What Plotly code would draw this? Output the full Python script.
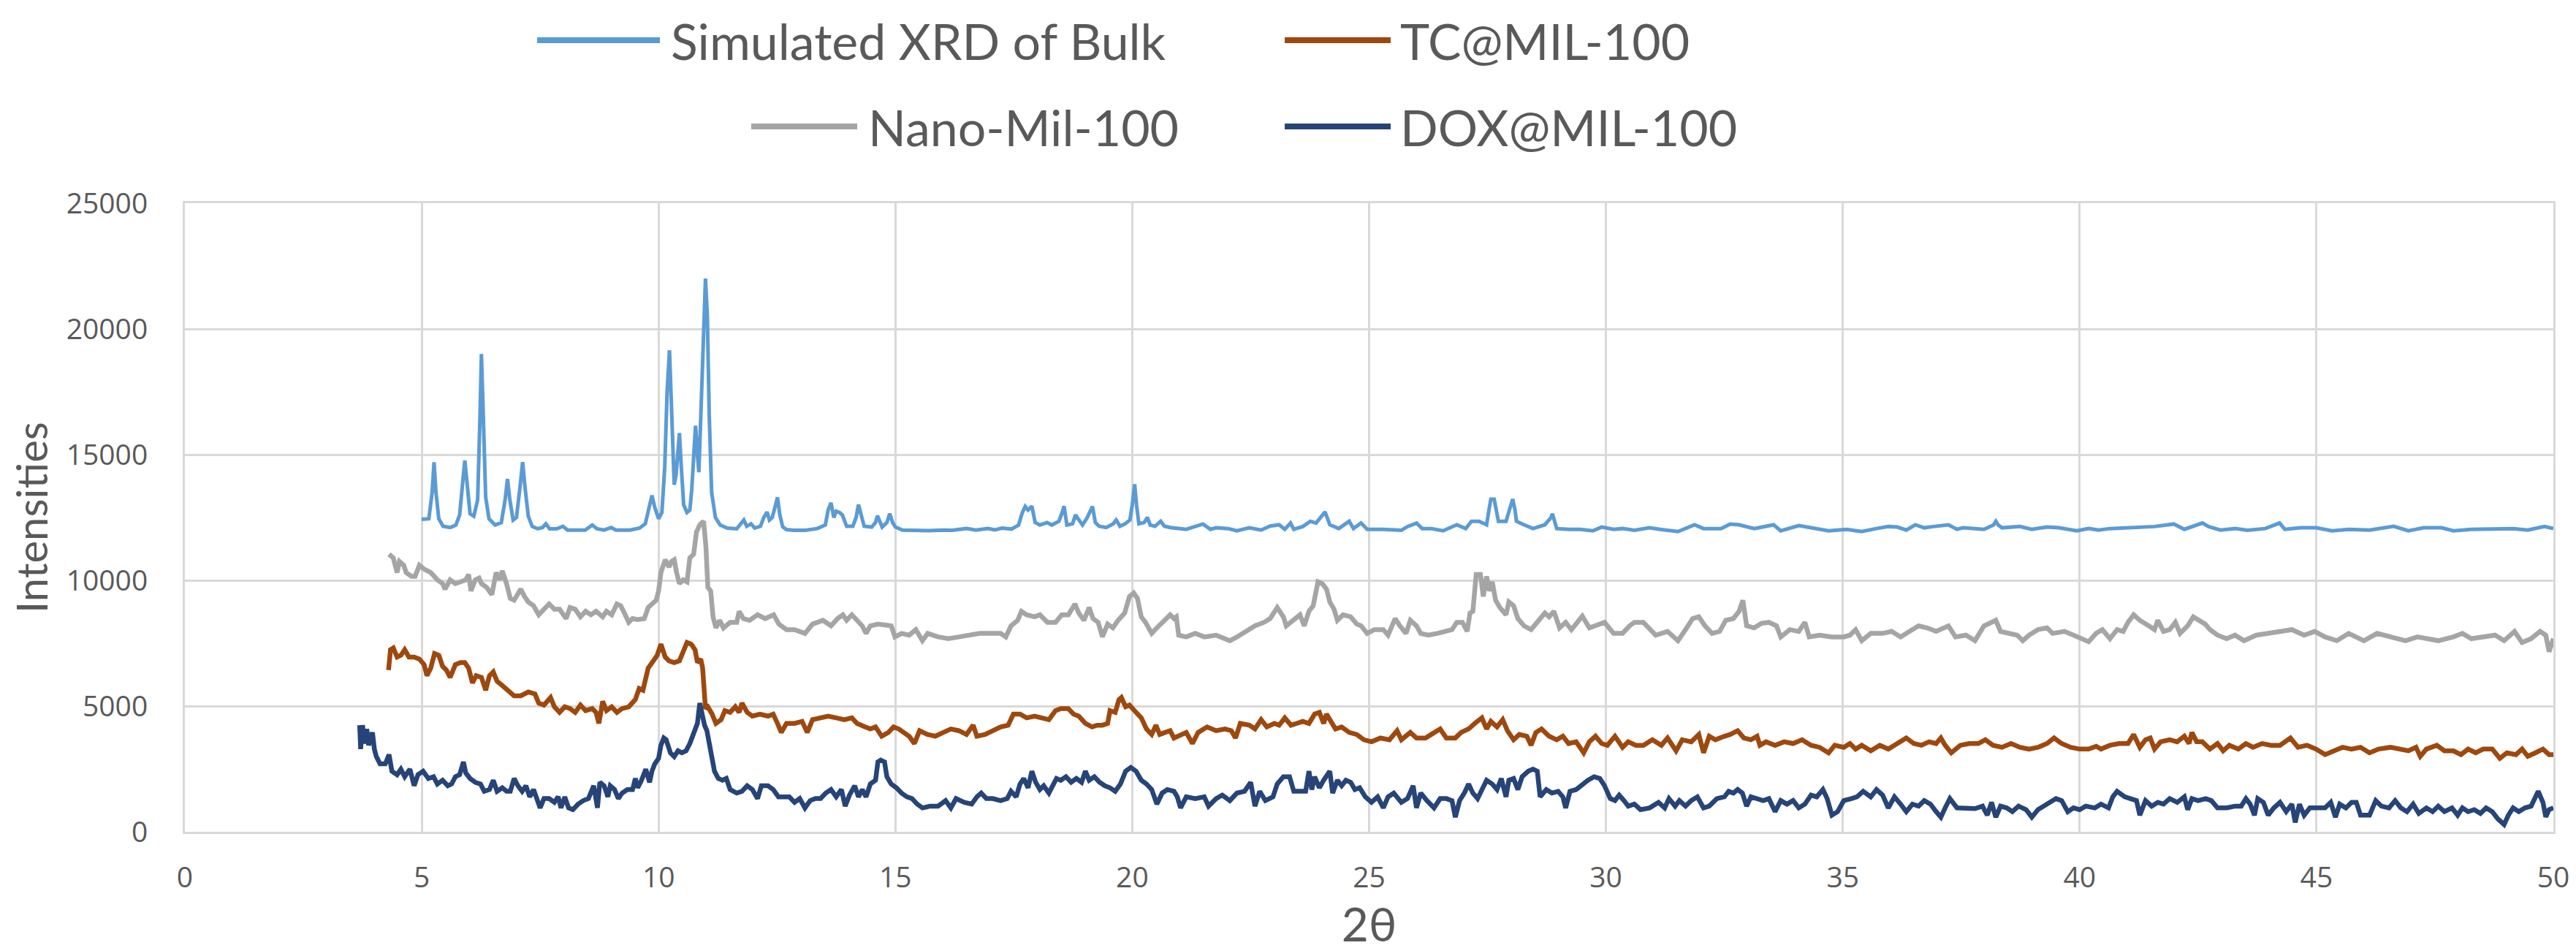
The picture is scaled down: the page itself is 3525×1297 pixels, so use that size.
import plotly.graph_objects as go

# ---------------- data (2theta, intensity) ----------------
bulk = [
(5.00,12430),(5.15,12450),(5.22,13500),(5.26,14700),(5.30,13500),(5.36,12450),(5.45,12150),(5.60,12100),
(5.72,12200),(5.80,12600),(5.87,14000),(5.91,14770),(5.96,13800),(6.02,12650),(6.10,12550),(6.18,13200),
(6.23,16500),(6.26,19000),(6.30,16500),(6.35,13300),(6.42,12450),(6.55,12200),(6.68,12300),(6.76,13200),
(6.81,14030),(6.86,13200),(6.93,12400),(7.00,12500),(7.08,13800),(7.13,14700),(7.18,13700),(7.25,12550),
(7.33,12150),(7.45,12050),(7.55,12100),(7.62,12250),(7.70,12050),(7.85,12050),(7.98,12150),(8.08,12000),
(8.25,12000),(8.45,12000),(8.60,12200),(8.70,12050),(8.85,12000),(9.00,12100),(9.10,12000),(9.40,12000),
(9.60,12080),(9.72,12250),(9.80,12900),(9.86,13380),(9.92,12900),(10.00,12450),(10.07,12700),(10.13,14500),
(10.18,17500),(10.23,19150),(10.28,16500),(10.33,13800),(10.37,14200),(10.41,15200),(10.44,15860),(10.48,14500),
(10.53,13000),(10.60,12700),(10.66,12800),(10.70,13600),(10.75,15200),(10.78,16150),(10.82,15000),(10.85,14300),
(10.90,17000),(10.95,20500),(10.99,22000),(11.03,20500),(11.07,16500),(11.12,13500),(11.20,12500),(11.30,12200),
(11.45,12080),(11.65,12050),(11.75,12250),(11.80,12400),(11.86,12150),(11.95,12250),(12.03,12080),(12.15,12150),
(12.22,12500),(12.29,12720),(12.34,12400),(12.40,12500),(12.47,13000),(12.51,13300),(12.56,12600),(12.62,12130),
(12.70,12020),(12.85,11990),(13.10,11990),(13.35,12060),(13.52,12200),(13.58,12800),(13.64,13080),(13.70,12500),
(13.75,12750),(13.82,12700),(13.88,12600),(13.97,12150),(14.10,12150),(14.17,12500),(14.22,13010),(14.28,12500),
(14.34,12150),(14.50,12120),(14.58,12300),(14.62,12570),(14.67,12300),(14.72,12120),(14.82,12300),(14.88,12650),
(14.94,12300),(15.00,12120),(15.15,12000),(15.40,11980),(15.70,11980),(16.00,12000),(16.20,11990),(16.50,12060),
(16.70,12000),(16.95,12060),(17.10,12010),(17.25,12080),(17.45,12040),(17.60,12200),(17.68,12700),(17.74,12940),
(17.80,12800),(17.88,12950),(17.95,12300),(18.05,12200),(18.20,12300),(18.30,12200),(18.45,12350),(18.52,12700),
(18.56,12950),(18.62,12200),(18.74,12250),(18.80,12600),(18.86,12450),(18.95,12200),(19.05,12500),(19.12,12800),
(19.16,12940),(19.22,12300),(19.30,12150),(19.45,12100),(19.60,12250),(19.66,12400),(19.74,12150),(19.85,12250),
(19.95,12400),(20.00,13000),(20.05,13820),(20.09,13000),(20.14,12250),(20.25,12300),(20.32,12500),(20.38,12200),
(20.48,12150),(20.60,12350),(20.68,12150),(20.80,12100),(20.95,12060),(21.14,12030),(21.49,12240),(21.65,12030),
(21.77,12090),(22.02,12060),(22.21,11970),(22.47,12090),(22.72,12000),(22.91,12160),(23.10,12210),(23.22,12030),
(23.34,12280),(23.41,12030),(23.60,12140),(23.76,12350),(23.88,12280),(23.98,12500),(24.07,12720),(24.17,12210),
(24.36,12060),(24.58,12350),(24.67,12060),(24.83,12280),(24.96,12030),(25.30,12030),(25.68,11990),(25.81,12140),
(26.00,12280),(26.12,12060),(26.31,12060),(26.56,11970),(26.85,12210),(27.04,12060),(27.16,12350),(27.32,12350),
(27.48,12210),(27.53,12800),(27.57,13230),(27.64,13230),(27.69,12800),(27.73,12350),(27.89,12350),(27.98,12940),
(28.03,13230),(28.08,12800),(28.11,12350),(28.27,12210),(28.46,12060),(28.71,12210),(28.84,12500),(28.87,12650),
(28.91,12400),(28.96,12060),(29.21,12030),(29.46,12030),(29.72,11970),(29.91,12120),(30.16,12030),(30.35,12060),
(30.60,11990),(30.92,12090),(31.14,12030),(31.52,11940),(31.87,12210),(32.06,12060),(32.43,12060),(32.62,12240),
(32.81,12210),(33.13,12060),(33.54,12210),(33.69,11970),(34.07,12180),(34.39,12060),(34.70,11970),(35.08,12030),
(35.40,11940),(35.71,12060),(35.96,12140),(36.15,12120),(36.34,12000),(36.53,12210),(36.72,12090),(36.91,12140),
(37.23,12210),(37.41,12030),(37.54,12090),(37.98,12030),(38.18,12200),(38.23,12350),(38.28,12200),(38.36,12090),
(38.74,12140),(38.99,12030),(39.31,12120),(39.56,12090),(39.94,11970),(40.19,12060),(40.40,12000),(40.64,12060),
(41.14,12090),(41.58,12140),(41.99,12240),(42.21,12030),(42.59,12280),(42.72,12140),(42.97,12000),(43.28,12060),
(43.54,11990),(43.92,12060),(44.22,12280),(44.33,12030),(44.67,12090),(44.99,12090),(45.33,11970),(45.68,12030),
(46.12,12000),(46.63,12150),(46.94,11970),(47.26,12090),(47.64,12090),(47.89,11970),(48.27,12030),(48.71,12060),
(49.15,12060),(49.46,12000),(49.81,12140),(50.00,12060),
]

nano = [
(4.31,11040),(4.40,10890),(4.48,10310),(4.53,10750),(4.62,10600),(4.67,10310),(4.78,10160),(4.86,10160),
(4.95,10600),(5.05,10450),(5.19,10310),(5.33,10020),(5.44,9870),(5.49,9650),(5.60,10020),(5.71,9870),
(5.82,9940),(5.93,10020),(5.99,10230),(6.04,9580),(6.13,10020),(6.21,10090),(6.26,9870),(6.37,9720),
(6.48,9430),(6.57,10310),(6.65,10020),(6.70,10380),(6.79,9870),(6.87,9280),(6.95,9210),(7.03,9430),
(7.09,9650),(7.17,9360),(7.25,9140),(7.36,8990),(7.47,8630),(7.58,8850),(7.69,9060),(7.80,8850),
(7.91,8850),(8.05,8480),(8.13,8920),(8.24,8850),(8.35,8550),(8.46,8770),(8.57,8630),(8.68,8770),
(8.82,8550),(8.90,8770),(9.01,8630),(9.12,9060),(9.20,8990),(9.26,8770),(9.37,8330),(9.45,8480),
(9.56,8440),(9.70,8480),(9.78,8920),(9.86,9060),(9.95,9210),(10.00,9580),(10.05,10310),(10.14,10820),
(10.22,10530),(10.27,10750),(10.33,10820),(10.38,10310),(10.44,9870),(10.52,10020),(10.60,9940),(10.66,10890),
(10.74,11040),(10.80,11920),(10.87,12210),(10.95,12350),(11.00,11330),(11.04,9720),(11.10,9580),(11.15,8550),
(11.21,8110),(11.29,8410),(11.37,8110),(11.51,8330),(11.65,8330),(11.70,8770),(11.79,8480),(11.92,8410),
(12.09,8630),(12.25,8480),(12.43,8630),(12.54,8260),(12.70,8040),(12.87,8040),(13.09,7890),(13.25,8260),
(13.47,8410),(13.64,8190),(13.78,8480),(13.89,8630),(13.97,8410),(14.08,8630),(14.19,8410),(14.30,8190),
(14.38,7890),(14.47,8190),(14.63,8260),(14.80,8190),(14.91,8190),(14.99,7750),(15.13,7890),(15.29,7820),
(15.43,8040),(15.57,7600),(15.68,7890),(15.90,7750),(16.12,7680),(16.34,7750),(16.56,7820),(16.78,7890),
(17.00,7890),(17.22,7890),(17.33,7750),(17.44,8190),(17.58,8410),(17.66,8770),(17.77,8630),(17.94,8550),
(18.05,8630),(18.21,8330),(18.38,8330),(18.51,8630),(18.65,8630),(18.79,9060),(18.87,8700),(18.98,8410),
(19.09,8920),(19.17,8480),(19.28,8330),(19.37,7750),(19.48,8260),(19.59,8110),(19.70,8410),(19.84,8700),
(19.94,9360),(20.03,9500),(20.11,9280),(20.19,8550),(20.28,8330),(20.41,7890),(20.52,8110),(20.69,8410),
(20.80,8630),(20.88,8480),(20.93,8550),(20.98,7820),(21.14,7750),(21.33,7890),(21.52,7750),(21.77,7820),
(22.06,7600),(22.21,7750),(22.40,7970),(22.59,8190),(22.78,8330),(22.91,8480),(23.06,8920),(23.19,8550),
(23.25,8190),(23.41,8410),(23.54,8630),(23.63,8190),(23.73,8770),(23.82,8990),(23.92,9940),(24.01,9870),
(24.10,9650),(24.17,9140),(24.26,8850),(24.33,8410),(24.45,8630),(24.61,8550),(24.74,8260),(24.83,8190),
(24.96,7890),(25.11,8040),(25.30,8040),(25.40,7820),(25.55,8480),(25.65,8190),(25.78,7890),(25.87,8410),
(26.00,8190),(26.09,7890),(26.25,7820),(26.44,7890),(26.60,7970),(26.75,8040),(26.85,8330),(26.97,8330),
(27.07,7970),(27.13,8700),(27.19,8770),(27.26,10230),(27.35,10230),(27.41,9360),(27.48,10160),(27.54,9580),
(27.60,9940),(27.67,9210),(27.76,8920),(27.89,8630),(27.95,9140),(28.05,8990),(28.14,8480),(28.27,8190),
(28.42,8040),(28.55,8330),(28.71,8700),(28.80,8550),(28.90,8770),(29.02,8110),(29.15,8330),(29.27,8040),
(29.50,8580),(29.65,8110),(29.84,8260),(29.97,8330),(30.16,7890),(30.35,7890),(30.50,8190),(30.60,8330),
(30.79,8330),(31.05,7820),(31.30,7970),(31.52,7600),(31.68,8040),(31.83,8480),(31.96,8550),(32.09,8190),
(32.24,7890),(32.40,7970),(32.53,8410),(32.69,8480),(32.81,8770),(32.89,9210),(32.97,8190),(33.13,8110),
(33.28,8290),(33.44,8330),(33.60,8190),(33.69,7750),(33.88,8040),(34.07,7970),(34.20,8330),(34.29,7750),
(34.51,7820),(34.77,7750),(35.02,7750),(35.15,7820),(35.27,8040),(35.40,7600),(35.59,7890),(35.84,7890),
(36.03,7970),(36.22,7750),(36.41,7970),(36.60,8190),(36.78,8110),(36.97,7970),(37.23,8190),(37.38,7750),
(37.60,7820),(37.79,7600),(37.98,8190),(38.14,8330),(38.23,8410),(38.33,7970),(38.49,7890),(38.68,7820),
(38.80,7600),(38.93,7820),(39.12,8040),(39.31,8110),(39.43,7890),(39.68,7970),(39.87,7820),(40.06,7680),
(40.19,7560),(40.35,7900),(40.48,8040),(40.64,7680),(40.79,8040),(40.92,7970),(41.02,8330),(41.14,8630),
(41.27,8410),(41.46,8190),(41.58,8040),(41.65,8410),(41.77,7970),(41.90,8040),(42.02,8330),(42.12,7890),
(42.28,8190),(42.40,8550),(42.53,8410),(42.65,8260),(42.75,8040),(42.91,7820),(43.10,7680),(43.28,7820),
(43.47,7600),(43.73,7820),(43.98,7890),(44.23,7970),(44.48,8040),(44.74,7820),(44.96,7970),(45.18,7750),
(45.43,7600),(45.68,7890),(46.00,7600),(46.28,7890),(46.56,7750),(46.88,7600),(47.13,7750),(47.57,7600),
(47.89,7750),(48.08,7890),(48.27,7680),(48.52,7750),(48.77,7820),(48.96,7600),(49.18,7970),(49.34,7530),
(49.53,7680),(49.72,7970),(49.84,7820),(49.91,7160),(50.00,7680),
]

tc = [
(4.30,6430),(4.34,7240),(4.40,7310),(4.48,6950),(4.56,7020),(4.64,7240),(4.73,6950),(4.84,6950),
(4.95,6870),(5.05,6650),(5.11,6210),(5.19,6510),(5.27,7090),(5.36,7020),(5.44,6580),(5.52,6430),
(5.60,6140),(5.71,6650),(5.82,6730),(5.91,6730),(5.99,6510),(6.07,5920),(6.15,6210),(6.26,6140),
(6.35,5630),(6.43,6210),(6.51,6360),(6.59,5990),(6.68,5850),(6.81,5630),(6.95,5410),(7.09,5410),
(7.25,5560),(7.39,5480),(7.47,5120),(7.58,5040),(7.72,5340),(7.80,4970),(7.91,4750),(8.02,4970),
(8.13,4900),(8.24,4750),(8.35,5040),(8.46,4820),(8.60,4900),(8.68,4750),(8.74,4310),(8.82,5190),
(8.90,4820),(9.01,4970),(9.12,4750),(9.23,4900),(9.37,4970),(9.51,5260),(9.59,5700),(9.67,5630),
(9.78,6510),(9.89,6800),(9.97,7020),(10.05,7460),(10.14,6950),(10.22,6800),(10.33,6730),(10.44,6800),
(10.52,7160),(10.60,7530),(10.69,7460),(10.77,7240),(10.82,6730),(10.89,6870),(10.93,6510),(10.99,4900),
(11.04,4970),(11.13,4680),(11.21,4310),(11.32,4460),(11.40,4820),(11.51,4750),(11.62,4970),(11.70,4750),
(11.76,5120),(11.87,4750),(11.98,4600),(12.14,4680),(12.31,4600),(12.42,4680),(12.51,4310),(12.59,3950),
(12.70,4310),(12.87,4310),(13.03,4390),(13.14,3950),(13.25,4460),(13.42,4530),(13.58,4600),(13.75,4530),
(13.92,4460),(14.08,4530),(14.19,4310),(14.36,4170),(14.47,4090),(14.58,4170),(14.71,3800),(14.85,3950),
(14.96,4170),(15.07,4090),(15.18,3950),(15.29,3800),(15.40,3510),(15.51,4020),(15.68,3870),(15.84,3800),
(16.01,3950),(16.17,4090),(16.34,4020),(16.50,3870),(16.64,4240),(16.72,3800),(16.89,3870),(17.05,4020),
(17.22,4170),(17.38,4240),(17.49,4680),(17.63,4680),(17.77,4530),(17.94,4600),(18.10,4530),(18.24,4460),
(18.38,4820),(18.49,4900),(18.65,4900),(18.76,4680),(18.87,4600),(19.01,4310),(19.15,4170),(19.26,4240),
(19.37,4240),(19.48,4310),(19.53,4820),(19.64,4750),(19.72,5260),(19.77,5340),(19.86,4970),(19.94,5040),
(20.08,4750),(20.19,4530),(20.30,4090),(20.41,3870),(20.50,4240),(20.58,3870),(20.69,3950),(20.80,4020),
(20.88,3730),(20.95,3800),(21.02,3870),(21.14,3950),(21.27,3510),(21.39,3950),(21.58,4170),(21.77,4020),
(21.96,4090),(22.09,4020),(22.18,3730),(22.28,4310),(22.47,4240),(22.59,4090),(22.72,4460),(22.84,4170),
(23.00,4310),(23.10,4240),(23.22,4530),(23.35,4240),(23.47,4310),(23.60,4390),(23.73,4310),(23.85,4680),
(23.95,4750),(24.04,4310),(24.10,4680),(24.20,4390),(24.29,4090),(24.42,4170),(24.58,3950),(24.74,3870),
(24.89,3660),(25.05,3580),(25.24,3730),(25.43,3660),(25.59,4020),(25.68,3660),(25.87,3950),(26.00,3730),
(26.19,3730),(26.31,3870),(26.50,4090),(26.63,3730),(26.82,3730),(26.94,3950),(27.10,4090),(27.23,4310),
(27.38,4530),(27.48,4090),(27.57,4390),(27.70,4170),(27.82,4460),(27.92,4020),(28.05,3660),(28.17,3870),
(28.33,3800),(28.42,3440),(28.52,3950),(28.64,4090),(28.80,3800),(28.96,3660),(29.09,3800),(29.21,3510),
(29.37,3580),(29.53,3140),(29.65,3580),(29.78,3800),(29.91,3510),(30.03,3440),(30.19,3800),(30.35,3360),
(30.47,3580),(30.63,3440),(30.79,3440),(30.98,3660),(31.17,3440),(31.30,3730),(31.48,3220),(31.61,3660),
(31.80,3580),(31.96,3870),(32.06,3140),(32.18,3800),(32.31,3660),(32.50,3800),(32.62,3870),(32.78,4020),
(32.91,3730),(33.06,3660),(33.19,3800),(33.25,3440),(33.38,3580),(33.57,3440),(33.76,3580),(33.95,3510),
(34.14,3660),(34.33,3440),(34.51,3360),(34.70,3140),(34.83,3440),(35.02,3360),(35.15,3510),(35.27,3290),
(35.40,3440),(35.59,3220),(35.78,3440),(35.96,3290),(36.15,3510),(36.34,3730),(36.50,3510),(36.66,3440),
(36.82,3580),(36.97,3510),(37.07,3730),(37.16,3440),(37.29,3140),(37.48,3440),(37.67,3510),(37.86,3510),
(38.01,3660),(38.17,3440),(38.36,3360),(38.55,3510),(38.74,3360),(38.93,3290),(39.12,3360),(39.31,3510),
(39.46,3730),(39.62,3510),(39.81,3360),(40.00,3290),(40.19,3290),(40.35,3400),(40.45,3290),(40.64,3440),
(40.83,3510),(41.02,3510),(41.14,3870),(41.27,3360),(41.39,3660),(41.49,3730),(41.58,3290),(41.71,3580),
(41.90,3660),(42.06,3580),(42.21,3800),(42.31,3510),(42.37,3950),(42.47,3580),(42.59,3580),(42.75,3290),
(42.91,3510),(43.03,3220),(43.16,3440),(43.35,3290),(43.51,3510),(43.66,3360),(43.85,3510),(44.04,3440),
(44.23,3440),(44.45,3730),(44.61,3360),(44.80,3440),(44.99,3290),(45.18,3070),(45.37,3220),(45.55,3360),
(45.74,3290),(45.93,3360),(46.12,3140),(46.31,3290),(46.56,3360),(46.75,3290),(46.94,3220),(47.10,3360),
(47.19,3000),(47.32,3290),(47.54,3440),(47.70,3220),(47.89,3220),(48.05,3070),(48.20,3290),(48.36,3140),
(48.52,3290),(48.71,3290),(48.87,2920),(49.02,3140),(49.21,3070),(49.34,3290),(49.46,3000),(49.62,3140),
(49.78,3290),(49.91,3070),(50.00,3070),
]

dox = [
(3.69,4240),(3.71,3290),(3.75,4240),(3.79,3510),(3.84,4090),(3.88,3440),(3.93,3800),(3.96,3950),
(4.00,3290),(4.04,3000),(4.12,2700),(4.23,2700),(4.31,3070),(4.37,2410),(4.48,2270),(4.56,2490),
(4.64,2190),(4.75,2490),(4.84,1830),(4.92,2270),(5.03,2410),(5.14,2120),(5.25,2190),(5.33,1900),
(5.44,2050),(5.55,1830),(5.63,1900),(5.71,2190),(5.80,2270),(5.88,2780),(5.93,2340),(6.02,2120),
(6.13,1970),(6.24,1900),(6.32,1610),(6.43,1680),(6.51,2050),(6.59,1610),(6.70,1750),(6.79,1610),
(6.87,1610),(6.95,2120),(7.03,1830),(7.12,1610),(7.20,1830),(7.28,1390),(7.36,1680),(7.45,1240),
(7.50,950),(7.58,1320),(7.69,1320),(7.80,1170),(7.88,1390),(7.94,950),(8.02,1390),(8.10,950),
(8.19,880),(8.30,1100),(8.41,1240),(8.52,1320),(8.63,1830),(8.71,950),(8.76,1970),(8.85,1830),
(8.93,1390),(8.98,1830),(9.07,1680),(9.15,1320),(9.23,1540),(9.34,1680),(9.45,1680),(9.51,2120),
(9.56,1750),(9.64,2050),(9.73,2490),(9.81,1970),(9.86,2410),(9.92,2700),(10.00,2920),(10.05,3440),
(10.11,3730),(10.16,3660),(10.25,3140),(10.33,2990),(10.41,3220),(10.49,3140),(10.58,3220),(10.66,3510),
(10.74,3870),(10.82,4310),(10.87,5120),(10.91,4680),(10.97,4240),(11.02,4020),(11.10,3140),(11.18,2410),
(11.26,2120),(11.35,2050),(11.43,2120),(11.51,1680),(11.65,1540),(11.76,1610),(11.87,1830),(11.98,1680),
(12.09,1320),(12.17,1830),(12.31,1830),(12.42,1680),(12.53,1390),(12.65,1390),(12.76,1390),(12.87,1170),
(12.98,1320),(13.09,950),(13.20,1240),(13.31,1320),(13.42,1320),(13.53,1540),(13.64,1680),(13.75,1390),
(13.86,1680),(13.94,1020),(14.03,1460),(14.14,1830),(14.22,1390),(14.30,1680),(14.38,1390),(14.47,1900),
(14.58,2050),(14.63,2780),(14.69,2850),(14.77,2780),(14.82,2190),(14.91,1900),(15.02,1750),(15.13,1540),
(15.24,1390),(15.35,1320),(15.46,1100),(15.57,950),(15.73,1020),(15.90,1020),(16.06,1240),(16.17,950),
(16.28,1320),(16.45,1170),(16.61,1100),(16.72,1390),(16.81,1540),(16.92,1320),(17.05,1320),(17.22,1240),
(17.36,1320),(17.44,1610),(17.55,1390),(17.63,1900),(17.71,2120),(17.80,1750),(17.88,2410),(17.96,1970),
(18.05,1680),(18.13,1830),(18.24,1540),(18.32,1830),(18.40,2120),(18.49,2050),(18.60,2190),(18.71,1970),
(18.82,2120),(18.93,1970),(19.01,2410),(19.09,2050),(19.20,2190),(19.31,1970),(19.42,1830),(19.53,1750),
(19.64,1610),(19.75,1900),(19.86,2410),(19.97,2560),(20.08,2410),(20.19,2050),(20.30,1900),(20.41,1680),
(20.52,1100),(20.63,1540),(20.74,1680),(20.88,1610),(20.95,1390),(21.02,950),(21.14,1390),(21.33,1320),
(21.52,1390),(21.61,1020),(21.77,1320),(21.90,1460),(22.06,1240),(22.21,1540),(22.37,1610),(22.50,1970),
(22.59,1020),(22.69,1610),(22.81,1240),(22.97,1390),(23.06,1900),(23.19,2190),(23.32,2190),(23.41,1610),
(23.54,1610),(23.66,1610),(23.73,2410),(23.79,1680),(23.85,2190),(23.95,1750),(24.04,2050),(24.17,2410),
(24.23,1540),(24.33,2050),(24.42,1830),(24.51,2050),(24.61,1970),(24.70,1680),(24.80,1750),(24.92,1390),
(25.05,1170),(25.18,1390),(25.30,950),(25.40,1390),(25.52,1540),(25.68,1170),(25.81,1320),(25.93,1830),
(26.00,950),(26.09,1540),(26.22,1240),(26.37,950),(26.50,1320),(26.63,1320),(26.75,1240),(26.82,580),
(26.91,1240),(27.01,1540),(27.10,1900),(27.19,1540),(27.29,1320),(27.38,1680),(27.48,2050),(27.60,1900),
(27.70,1680),(27.79,2120),(27.89,1390),(27.95,2050),(28.05,2120),(28.14,1680),(28.23,2190),(28.36,2410),
(28.46,2490),(28.55,2410),(28.61,1390),(28.74,1680),(28.86,1540),(28.99,1610),(29.09,1390),(29.15,950),
(29.24,1610),(29.37,1680),(29.50,1900),(29.62,2050),(29.75,2190),(29.87,2120),(29.97,1830),(30.09,1320),
(30.19,1240),(30.28,1460),(30.38,1240),(30.47,1020),(30.60,1100),(30.73,880),(30.92,950),(31.11,1170),
(31.24,950),(31.33,1320),(31.46,1020),(31.55,1240),(31.68,1020),(31.80,1240),(31.93,1390),(32.06,950),
(32.18,1020),(32.34,1320),(32.50,1390),(32.59,1610),(32.69,1540),(32.78,1680),(32.88,1540),(32.97,1020),
(33.06,1390),(33.19,1320),(33.32,1240),(33.44,1320),(33.57,800),(33.69,1240),(33.82,1100),(33.95,1240),
(34.07,950),(34.20,1100),(34.33,1460),(34.45,1390),(34.58,1680),(34.67,1320),(34.77,660),(34.89,800),
(35.02,1240),(35.18,1320),(35.30,1390),(35.43,1610),(35.59,1390),(35.71,1680),(35.84,1460),(35.96,950),
(36.09,1390),(36.22,1100),(36.34,800),(36.47,1100),(36.60,1020),(36.72,1240),(36.85,1100),(36.97,800),
(37.07,580),(37.16,950),(37.26,1320),(37.41,950),(37.60,950),(37.79,920),(37.95,1020),(38.05,660),
(38.14,1170),(38.23,580),(38.33,1020),(38.46,950),(38.58,800),(38.71,1020),(38.87,880),(38.99,580),
(39.12,880),(39.24,1020),(39.37,1170),(39.50,1320),(39.62,1240),(39.75,800),(39.87,950),(40.00,880),
(40.13,1020),(40.32,950),(40.45,1100),(40.61,950),(40.70,1390),(40.79,1610),(40.95,1390),(41.08,1320),
(41.20,1240),(41.27,660),(41.39,1240),(41.52,1020),(41.65,1170),(41.77,1100),(41.90,1320),(42.06,1170),
(42.21,1390),(42.28,880),(42.37,1320),(42.50,1240),(42.66,1320),(42.78,1240),(42.91,950),(43.10,950),
(43.28,1020),(43.41,1020),(43.51,1320),(43.60,1100),(43.69,660),(43.76,1320),(43.88,1170),(43.98,660),
(44.10,950),(44.23,1170),(44.36,800),(44.48,1100),(44.55,370),(44.64,1100),(44.74,660),(44.86,950),
(45.02,950),(45.18,950),(45.30,1170),(45.40,580),(45.49,1100),(45.62,950),(45.74,1170),(45.84,1170),
(45.93,660),(46.12,660),(46.25,1240),(46.37,1020),(46.53,950),(46.66,1240),(46.78,950),(46.91,800),
(47.04,1100),(47.16,730),(47.32,950),(47.45,800),(47.57,1020),(47.70,800),(47.86,950),(47.98,660),
(48.08,950),(48.20,800),(48.33,880),(48.46,730),(48.58,950),(48.71,800),(48.83,510),(48.96,290),
(49.05,660),(49.15,950),(49.27,800),(49.40,950),(49.53,1020),(49.62,1390),(49.68,1610),(49.78,1170),
(49.84,590),(49.91,880),(50.00,950),
]

series_names = ["Simulated XRD of Bulk", "TC@MIL-100", "Nano-Mil-100", "DOX@MIL-100"]
series_colors = ["#5B9BD5", "#9E480E", "#A5A5A5", "#264478"]
x_ticks = [0, 5, 10, 15, 20, 25, 30, 35, 40, 45, 50]
y_ticks = [0, 5000, 10000, 15000, 20000, 25000]

# ---------------- figure ----------------
W, H = 3525, 1297
L, R, T, B = 245, 39, 270, 167
PW, PH = W - L - R, H - T - B

def px(xp):
    return (xp - L) / PW

def py(yp):
    return (H - B - yp) / PH

fig = go.Figure()
data_sets = {"Simulated XRD of Bulk": bulk, "TC@MIL-100": tc,
             "Nano-Mil-100": nano, "DOX@MIL-100": dox}
widths = {"Simulated XRD of Bulk": 5, "TC@MIL-100": 6.5, "Nano-Mil-100": 6.5, "DOX@MIL-100": 6.5}
for name, col in zip(series_names, series_colors):
    pts = data_sets[name]
    fig.add_trace(go.Scatter(
        x=[p[0] for p in pts], y=[p[1] for p in pts], mode="lines", name=name,
        line=dict(color=col, width=widths[name]), showlegend=False))

grid = "#D9D9D9"
txt = "#595959"
fig.update_layout(
    width=W, height=H,
    margin=dict(l=L, r=R, t=T, b=B, autoexpand=False),
    paper_bgcolor="white", plot_bgcolor="white",
    font=dict(family="Open Sans", color=txt),
    xaxis=dict(range=[0, 50], tickvals=x_ticks, ticktext=[str(v) for v in x_ticks],
               showgrid=True, gridcolor=grid, gridwidth=3, zeroline=False,
               showline=True, linecolor=grid, linewidth=3, mirror=True,
               ticks="", ticklabelstandoff=26, tickfont=dict(size=39, color=txt),
               title=dict(text="2θ", font=dict(size=64, color=txt, family="Lato"), standoff=0)),
    yaxis=dict(range=[0, 25000], tickvals=y_ticks, ticktext=[str(v) for v in y_ticks],
               showgrid=True, gridcolor=grid, gridwidth=3, zeroline=False,
               showline=True, linecolor=grid, linewidth=3, mirror=True,
               ticks="", ticklabelstandoff=40, tickfont=dict(size=39, color=txt),
               title=dict(text="Intensities", font=dict(size=58, color=txt, family="Lato"), standoff=26)),
)

# custom legend (two rows, Excel style)
legend_items = [
    ("Simulated XRD of Bulk", "#5B9BD5", 727, 895, 908, 47),
    ("TC@MIL-100", "#9E480E", 1750, 1895, 1906, 47),
    ("Nano-Mil-100", "#A5A5A5", 1020, 1165, 1178, 165),
    ("DOX@MIL-100", "#264478", 1750, 1895, 1906, 165),
]
for name, col, x0, x1, xt, yc in legend_items:
    fig.add_shape(type="line", xref="paper", yref="paper",
                  x0=px(x0), x1=px(x1), y0=py(yc), y1=py(yc),
                  line=dict(color=col, width=8))
    fig.add_annotation(xref="paper", yref="paper", x=px(xt), y=py(yc),
                       xanchor="left", yanchor="middle", showarrow=False,
                       text=name, font=dict(size=68, color=txt, family="Lato"))

fig.write_html("out.html")
